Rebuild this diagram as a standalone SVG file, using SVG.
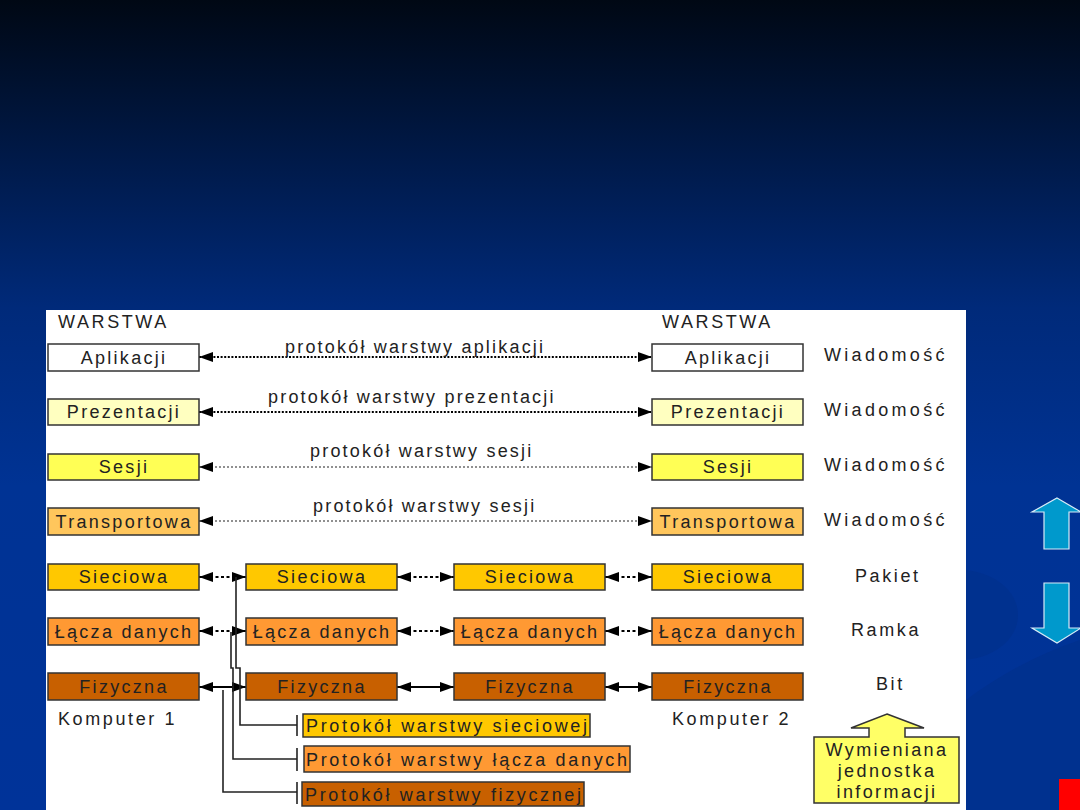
<svg xmlns="http://www.w3.org/2000/svg" width="1080" height="810" viewBox="0 0 1080 810">
<defs>
<linearGradient id="bg" x1="0" y1="0" x2="0" y2="1">
<stop offset="0" stop-color="#000814"/>
<stop offset="0.38" stop-color="#002a7a"/>
<stop offset="0.6" stop-color="#003394"/>
<stop offset="1" stop-color="#003399"/>
</linearGradient>
<marker id="ah" markerUnits="userSpaceOnUse" markerWidth="14" markerHeight="10" refX="14" refY="5" orient="auto-start-reverse" viewBox="0 0 14 10">
<path d="M0,0 L14,5 L0,10 z" fill="#000"/>
</marker>
<style>
text{font-family:"Liberation Sans",Arial,sans-serif;fill:#222}
.lbl{font-size:18px;letter-spacing:2.3px;text-anchor:middle}
.side{font-size:18px;letter-spacing:2.6px}
.box{stroke:#333;stroke-width:1.5}
.dotA{stroke:#000;stroke-width:2;stroke-dasharray:2 1.6;fill:none}
.dotB{stroke:#222;stroke-width:1.2;stroke-dasharray:2 2;fill:none}
.dotC{stroke:#000;stroke-width:2.2;stroke-dasharray:3 2.5;fill:none}
.sol{stroke:#000;stroke-width:2.2;fill:none}
.route{stroke:#222;stroke-width:1.6;fill:none}
.ptxt{font-size:18px}
.unit{font-size:18px;letter-spacing:2.4px;text-anchor:middle}
</style>
</defs>
<rect x="0" y="0" width="1080" height="810" fill="url(#bg)"/>
<path d="M966,700 Q1020,660 1080,640 L1080,810 L966,810 z" fill="#00318f"/>
<ellipse cx="960" cy="615" rx="58" ry="45" fill="#00318f"/>
<rect x="46" y="310" width="920" height="500" fill="#ffffff"/>
<rect x="1059" y="779" width="21" height="31" fill="#ff0000"/>
<g id="blue-arrows" fill="#0099cc" stroke="#d8ecf7" stroke-width="1.2">
<path d="M1057,498 L1081,512 L1069,512 L1069,549 L1044,549 L1044,512 L1032,512 z"/>
<path d="M1044,583 L1069,583 L1069,628 L1081,628 L1057,643 L1032,628 L1044,628 z"/>
</g>
<g id="headers">
<text class="side" x="58" y="328">WARSTWA</text>
<text class="side" x="662" y="328">WARSTWA</text>
<text class="side" x="58" y="725">Komputer 1</text>
<text class="side" x="672" y="725">Komputer 2</text>
<text class="side" x="824" y="361" style="letter-spacing:3.3px">Wiadomość</text>
<text class="side" x="824" y="416" style="letter-spacing:3.3px">Wiadomość</text>
<text class="side" x="824" y="471" style="letter-spacing:3.3px">Wiadomość</text>
<text class="side" x="824" y="526" style="letter-spacing:3.3px">Wiadomość</text>
<text class="side" x="855" y="582">Pakiet</text>
<text class="side" x="851" y="636">Ramka</text>
<text class="side" x="876" y="690">Bit</text>
</g>
<g id="connectors">
<line class="dotA" x1="199" y1="357" x2="652" y2="357" marker-start="url(#ah)" marker-end="url(#ah)"/>
<line class="dotA" x1="199" y1="412" x2="652" y2="412" marker-start="url(#ah)" marker-end="url(#ah)"/>
<line class="dotB" x1="199" y1="467" x2="652" y2="467" marker-start="url(#ah)" marker-end="url(#ah)"/>
<line class="dotB" x1="199" y1="521" x2="652" y2="521" marker-start="url(#ah)" marker-end="url(#ah)"/>
<line class="dotC" x1="199" y1="577" x2="246" y2="577" marker-start="url(#ah)" marker-end="url(#ah)"/>
<line class="dotC" x1="397" y1="577" x2="454" y2="577" marker-start="url(#ah)" marker-end="url(#ah)"/>
<line class="dotC" x1="605" y1="577" x2="652" y2="577" marker-start="url(#ah)" marker-end="url(#ah)"/>
<line class="dotC" x1="199" y1="631" x2="246" y2="631" marker-start="url(#ah)" marker-end="url(#ah)"/>
<line class="dotC" x1="397" y1="631" x2="454" y2="631" marker-start="url(#ah)" marker-end="url(#ah)"/>
<line class="dotC" x1="605" y1="631" x2="652" y2="631" marker-start="url(#ah)" marker-end="url(#ah)"/>
<line class="sol" x1="199" y1="687" x2="246" y2="687" marker-start="url(#ah)" marker-end="url(#ah)"/>
<line class="sol" x1="397" y1="687" x2="454" y2="687" marker-start="url(#ah)" marker-end="url(#ah)"/>
<line class="sol" x1="605" y1="687" x2="652" y2="687" marker-start="url(#ah)" marker-end="url(#ah)"/>
<path class="route" d="M236,577 L236,668 L240,668 L240,725 L297,725"/>
<path class="route" d="M231,632 L231,668 L233,668 L233,759 L297,759"/>
<path class="route" d="M223,690 L223,792 L297,792"/>
<line class="route" x1="297" y1="715" x2="297" y2="736"/>
<line class="route" x1="297" y1="748" x2="297" y2="771"/>
<line class="route" x1="297" y1="782" x2="297" y2="804"/>
<text class="side" x="285" y="353" style="letter-spacing:2.2px">protokół warstwy aplikacji</text>
<text class="side" x="268" y="403" style="letter-spacing:2.2px">protokół warstwy prezentacji</text>
<text class="side" x="310" y="457" style="letter-spacing:2.2px">protokół warstwy sesji</text>
<text class="side" x="313" y="512" style="letter-spacing:2.2px">protokół warstwy sesji</text>
</g>
<g id="n-apl-l"><rect class="box" x="48" y="344" width="151" height="27" fill="#ffffff"/><text class="lbl" x="124" y="364">Aplikacji</text></g>
<g id="n-pre-l"><rect class="box" x="48" y="399" width="151" height="26" fill="#ffffc0"/><text class="lbl" x="124" y="418">Prezentacji</text></g>
<g id="n-ses-l"><rect class="box" x="48" y="454" width="151" height="26" fill="#ffff55"/><text class="lbl" x="124" y="473">Sesji</text></g>
<g id="n-tra-l"><rect class="box" x="48" y="508" width="151" height="27" fill="#ffc65c"/><text class="lbl" x="124" y="528">Transportowa</text></g>
<g id="n-sie-1"><rect class="box" x="48" y="564" width="151" height="26" fill="#ffc800"/><text class="lbl" x="124" y="583">Sieciowa</text></g>
<g id="n-lac-1"><rect class="box" x="48" y="618" width="151" height="27" fill="#ff9933"/><text class="lbl" x="124" y="638">Łącza danych</text></g>
<g id="n-fiz-1"><rect class="box" x="48" y="673" width="151" height="27" fill="#c86000"/><text class="lbl" x="124" y="693">Fizyczna</text></g>
<g id="n-sie-2"><rect class="box" x="246" y="564" width="151" height="26" fill="#ffc800"/><text class="lbl" x="322" y="583">Sieciowa</text></g>
<g id="n-lac-2"><rect class="box" x="246" y="618" width="151" height="27" fill="#ff9933"/><text class="lbl" x="322" y="638">Łącza danych</text></g>
<g id="n-fiz-2"><rect class="box" x="246" y="673" width="151" height="27" fill="#c86000"/><text class="lbl" x="322" y="693">Fizyczna</text></g>
<g id="n-sie-3"><rect class="box" x="454" y="564" width="151" height="26" fill="#ffc800"/><text class="lbl" x="530" y="583">Sieciowa</text></g>
<g id="n-lac-3"><rect class="box" x="454" y="618" width="151" height="27" fill="#ff9933"/><text class="lbl" x="530" y="638">Łącza danych</text></g>
<g id="n-fiz-3"><rect class="box" x="454" y="673" width="151" height="27" fill="#c86000"/><text class="lbl" x="530" y="693">Fizyczna</text></g>
<g id="n-apl-r"><rect class="box" x="652" y="344" width="151" height="27" fill="#ffffff"/><text class="lbl" x="728" y="364">Aplikacji</text></g>
<g id="n-pre-r"><rect class="box" x="652" y="399" width="151" height="26" fill="#ffffc0"/><text class="lbl" x="728" y="418">Prezentacji</text></g>
<g id="n-ses-r"><rect class="box" x="652" y="454" width="151" height="26" fill="#ffff55"/><text class="lbl" x="728" y="473">Sesji</text></g>
<g id="n-tra-r"><rect class="box" x="652" y="508" width="151" height="27" fill="#ffc65c"/><text class="lbl" x="728" y="528">Transportowa</text></g>
<g id="n-sie-4"><rect class="box" x="652" y="564" width="151" height="26" fill="#ffc800"/><text class="lbl" x="728" y="583">Sieciowa</text></g>
<g id="n-lac-4"><rect class="box" x="652" y="618" width="151" height="27" fill="#ff9933"/><text class="lbl" x="728" y="638">Łącza danych</text></g>
<g id="n-fiz-4"><rect class="box" x="652" y="673" width="151" height="27" fill="#c86000"/><text class="lbl" x="728" y="693">Fizyczna</text></g>
<g id="p-sie"><rect class="box" x="303" y="714" width="287" height="23" fill="#ffc800"/><text class="ptxt" x="306" y="732" textLength="281" lengthAdjust="spacing">Protokół  warstwy sieciowej</text></g>
<g id="p-lac"><rect class="box" x="304" y="746" width="326" height="26" fill="#ff9933"/><text class="ptxt" x="306" y="766" textLength="321" lengthAdjust="spacing">Protokół  warstwy łącza danych</text></g>
<g id="p-fiz"><rect class="box" x="302" y="782" width="282" height="24" fill="#c86000"/><text class="ptxt" x="305" y="801" textLength="276" lengthAdjust="spacing">Protokół  warstwy fizycznej</text></g>
<g id="unit-callout">
<path d="M887,714 L924,728 L905,728 L905,737 L959,737 L959,803 L814,803 L814,737 L869,737 L869,728 L851,728 z" fill="#ffff66" stroke="#333" stroke-width="1.5"/>
<text class="unit" x="887" y="756">Wymieniana</text>
<text class="unit" x="887" y="777">jednostka</text>
<text class="unit" x="887" y="798">informacji</text>
</g>
</svg>
